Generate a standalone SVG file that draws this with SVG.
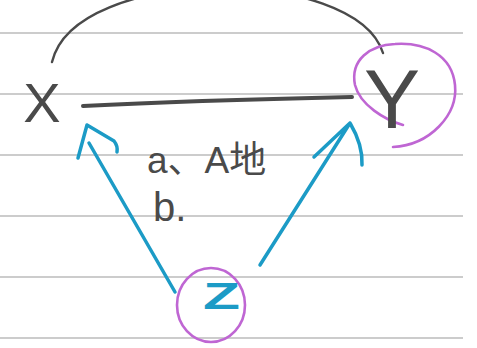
<svg xmlns="http://www.w3.org/2000/svg" width="477" height="348" viewBox="0 0 477 348">
<style>
.rule{stroke:#9a9a9a;stroke-width:1.2}
.pen{fill:none;stroke:#4a4a4a;stroke-linecap:round;stroke-linejoin:round}
.blue{fill:none;stroke:#1c9bc6;stroke-width:3.5;stroke-linecap:round;stroke-linejoin:round}
.ring{fill:none;stroke:#bf66d3;stroke-width:2.6;stroke-linecap:round}
.lbl{font-family:"Liberation Sans","Noto Sans CJK SC",sans-serif;fill:#4a4a4a}
</style>
<rect width="477" height="348" fill="#ffffff"/>
<g id="paper">
<line class="rule" x1="0" y1="33" x2="463" y2="33"/>
<line class="rule" x1="0" y1="94" x2="463" y2="94"/>
<line class="rule" x1="0" y1="155" x2="463" y2="155"/>
<line class="rule" x1="0" y1="216" x2="463" y2="216"/>
<line class="rule" x1="0" y1="277" x2="463" y2="277"/>
<line class="rule" x1="0" y1="338" x2="463" y2="338"/>
</g>
<g id="connectors">
<path class="pen" stroke-width="2.4" d="M52,62 C75,-35 355,-35 383,53"/>
<path class="pen" stroke-width="4" d="M83,106 C160,102 260,99 352,97"/>
<path class="blue" d="M175,292 L89,143 M78,158 L87,125 L114,141 Q118,146 117,152"/>
<path class="blue" d="M260,265 L350,123 M314,157 L350,123 Q363,145 362,165"/>
</g>
<g id="node-x">
<text class="lbl" x="42" y="122" font-size="56" text-anchor="middle">X</text>
</g>
<g id="node-y">
<path class="ring" d="M403,125 C385,120 360,105 355,85 C350,60 370,45 395,44 C425,42 452,55 455,85 C458,115 430,145 393,147"/>
<text class="lbl" x="392" y="128" font-size="84" text-anchor="middle">Y</text>
</g>
<g id="node-z">
<ellipse class="ring" cx="211" cy="305" rx="34" ry="37"/>
<text class="lbl" x="203" y="309" font-size="36" textLength="37" lengthAdjust="spacingAndGlyphs" style="fill:#1c9bc6;font-weight:bold">Z</text>
</g>
<g id="labels">
<text class="lbl" x="147" y="173" font-size="37">a、A地</text>
<text class="lbl" x="153" y="221" font-size="40">b.</text>
</g>
</svg>
